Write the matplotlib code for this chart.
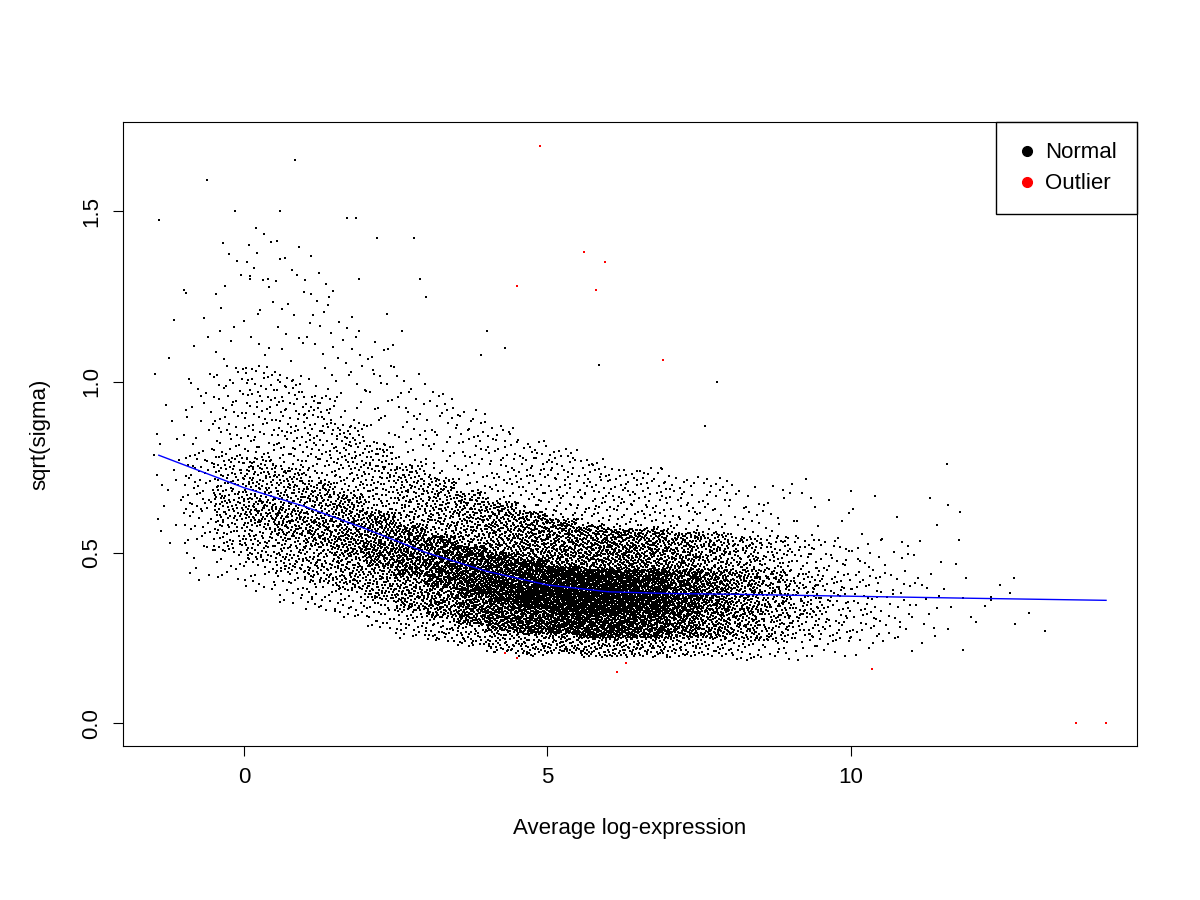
import numpy as np
import matplotlib
matplotlib.use("Agg")
import matplotlib.pyplot as plt
from matplotlib.lines import Line2D

plt.rcParams['font.family'] = ['Liberation Sans', 'DejaVu Sans']

# per-bin summary of the dense cloud
bin_x = [-1.25,-0.75,-0.25,0.25,0.75,1.25,1.75,2.25,2.75,3.25,3.75,4.25,4.75,5.25,5.75,6.25,6.75,7.25,7.75,8.25,8.75,9.25,9.75,10.25,10.75,11.25,11.75,12.25,12.75]
bin_n = [20,90,220,320,370,420,470,520,620,720,850,1000,1100,1150,1150,1100,950,750,550,380,250,150,90,60,35,20,10,4,3]
q05 = [0.55,0.50,0.50,0.47,0.44,0.41,0.39,0.36,0.33,0.31,0.29,0.27,0.26,0.26,0.25,0.25,0.25,0.25,0.25,0.24,0.24,0.24,0.24,0.24,0.24,0.25,0.26,0.28,0.28]
q25 = [0.65,0.61,0.60,0.58,0.55,0.52,0.49,0.46,0.43,0.40,0.37,0.35,0.34,0.33,0.32,0.32,0.32,0.32,0.32,0.31,0.31,0.31,0.30,0.30,0.30,0.31,0.32,0.33,0.33]
q50 = [0.75,0.70,0.68,0.66,0.63,0.60,0.57,0.53,0.50,0.47,0.44,0.42,0.40,0.39,0.38,0.38,0.38,0.38,0.38,0.38,0.38,0.37,0.37,0.37,0.37,0.37,0.38,0.37,0.37]
q75 = [0.85,0.80,0.79,0.78,0.75,0.71,0.67,0.62,0.58,0.55,0.52,0.50,0.48,0.46,0.45,0.45,0.45,0.45,0.45,0.45,0.45,0.44,0.44,0.44,0.44,0.44,0.45,0.42,0.42]
q95 = [1.10,1.02,1.05,1.05,1.02,0.96,0.88,0.82,0.76,0.72,0.68,0.65,0.62,0.60,0.58,0.57,0.57,0.56,0.56,0.55,0.55,0.55,0.54,0.54,0.54,0.55,0.58,0.45,0.45]

extra_x = [-1.4,-0.6,-0.15,0.85,0.6,0.2,1.7,1.85,2.2,2.8,0.05,0.1,0.6,1.1,2.9,7.6,7.8,5.85,-1.15,-0.95,4.0,4.3,2.6,10.0,11.8,13.2,12.7,1.4,1.9,0.4,3.0,3.9,2.35,-0.4,11.6,12.3]
extra_y = [1.475,1.59,1.5,1.65,1.5,1.45,1.48,1.48,1.42,1.42,1.35,1.3,1.36,1.37,1.3,0.87,1.0,1.05,1.18,1.26,1.15,1.1,1.15,0.68,0.62,0.27,0.29,1.25,1.3,1.3,1.25,1.08,1.2,1.15,0.64,0.37]

out_x = [4.5,4.88,5.6,5.8,5.95,6.9,4.3,4.5,6.15,6.3,10.35,13.7,14.2]
out_y = [1.28,1.69,1.38,1.27,1.35,1.065,0.205,0.19,0.15,0.175,0.16,0.0,0.0]

trend_x = [-1.4,0,1,2,3,4,5,6,7,8,10,12,14.2]
trend_y = [0.785,0.69,0.635,0.57,0.5,0.445,0.405,0.385,0.38,0.378,0.372,0.366,0.36]

def halton(i, b):
    f, r = 1.0, 0.0
    while i > 0:
        f /= b
        r += f * (i % b)
        i //= b
    return r

# place cloud points deterministically from the bin summaries
qs = [0.0, 0.05, 0.25, 0.5, 0.75, 0.95, 1.0]
xs, ys = [], []
k = 0
for i, cx in enumerate(bin_x):
    lo = q05[i] - (q25[i]-q05[i])*0.8
    hi = q95[i] + (q95[i]-q75[i])*1.5
    vals = [lo, q05[i], q25[i], q50[i], q75[i], q95[i], hi]
    for j in range(bin_n[i]):
        k += 1
        u = halton(k, 2)
        v = halton(k, 3)
        xs.append(cx - 0.25 + 0.5*u)
        ys.append(np.interp(v, qs, vals))
xs = np.array(xs + extra_x); ys = np.array(ys + extra_y)

fig = plt.figure(figsize=(12, 9), dpi=100)
ax = fig.add_axes([0.1025, 0.171, 0.845, 0.693])
ax.scatter(xs, ys, s=1.6, marker='s', c='black', linewidths=0)
ax.scatter(out_x, out_y, s=2.5, marker='s', c='red', linewidths=0)
ax.plot(trend_x, trend_y, color='blue', lw=1)
ax.set_xlim(-1.99, 14.71)
ax.set_ylim(-0.067, 1.76)
ax.set_xticks([0, 5, 10])
ax.set_yticks([0.0, 0.5, 1.0, 1.5])
ax.set_yticklabels(['0.0', '0.5', '1.0', '1.5'], rotation=90, va='center')
ax.tick_params(labelsize=16, length=7)
ax.tick_params(axis='x', pad=8)
ax.tick_params(axis='y', pad=8)
ax.set_xlabel('Average log-expression', fontsize=16, labelpad=22)
ax.set_ylabel('sqrt(sigma)', fontsize=16, labelpad=22)
handles = [Line2D([], [], marker='o', ls='', color='black', markersize=7),
           Line2D([], [], marker='o', ls='', color='red', markersize=7)]
leg = ax.legend(handles, ['Normal', 'Outlier'], loc='upper right', fontsize=16,
                fancybox=False, framealpha=1, edgecolor='black', borderaxespad=0,
                handletextpad=0.3, handlelength=1.0, borderpad=0.9, labelspacing=0.45)
leg.get_frame().set_linewidth(1)
fig.savefig('out.png')
